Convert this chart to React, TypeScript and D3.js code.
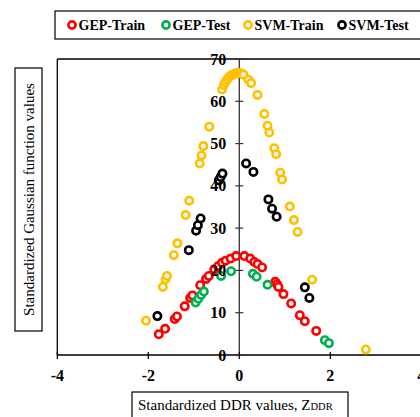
import React from "react";
import * as d3 from "d3";

type Pt = [number, number];

// Standardized DDR (x) vs standardized Gaussian function value (y)
const gepTrain: Pt[] = [
  [-1.77, 4.9], [-1.63, 6.2], [-1.42, 8.5], [-1.37, 9.1], [-1.20, 11.5],
  [-1.08, 13.5], [-1.03, 14.1], [-0.86, 16.5], [-0.73, 18.0], [-0.67, 18.7],
  [-0.55, 20.2], [-0.47, 21.0], [-0.38, 21.8], [-0.30, 22.3], [-0.19, 22.8],
  [-0.07, 23.4], [0.11, 23.4], [0.24, 22.8], [0.33, 22.0], [0.40, 21.5],
  [0.50, 20.7], [0.79, 17.3], [0.83, 16.7], [0.86, 16.1], [0.97, 14.4],
  [1.14, 12.2], [1.33, 9.4], [1.44, 8.0], [1.69, 5.7],
];

const gepTest: Pt[] = [
  [-0.96, 12.4], [-0.90, 13.3], [-0.84, 14.2], [-0.78, 15.0], [-0.40, 18.7],
  [-0.18, 19.8], [0.30, 19.2], [0.38, 18.5], [0.62, 16.6], [1.88, 3.5],
  [1.97, 2.8],
];

const svmTrain: Pt[] = [
  [-2.05, 8.1], [-1.68, 16.1], [-1.62, 17.9], [-1.59, 18.7], [-1.44, 23.6],
  [-1.36, 26.4], [-1.18, 33.1], [-1.10, 36.5], [-0.87, 45.3], [-0.83, 47.2],
  [-0.79, 49.4], [-0.66, 54.0], [-0.38, 62.8], [-0.34, 63.8], [-0.31, 64.5],
  [-0.27, 65.1], [-0.23, 65.7], [-0.18, 66.1], [-0.14, 66.3], [-0.09, 66.6],
  [-0.05, 66.7], [0.0, 66.7], [0.04, 66.6], [0.09, 66.3], [0.20, 65.1],
  [0.26, 64.3], [0.40, 61.5], [0.55, 57.0], [0.62, 54.2], [0.66, 52.6],
  [0.77, 48.9], [0.81, 47.5], [0.90, 43.1], [0.94, 41.5], [1.11, 35.1],
  [1.20, 31.9], [1.28, 29.1], [1.60, 17.8], [2.78, 1.3],
];

const svmTest: Pt[] = [
  [-1.80, 9.2], [-1.11, 24.8], [-0.95, 29.4], [-0.91, 30.7], [-0.85, 32.3],
  [-0.45, 41.3], [-0.41, 42.1], [-0.37, 42.9], [0.15, 45.3], [0.31, 43.3],
  [0.64, 36.8], [0.72, 34.6], [0.82, 32.7], [1.44, 16.0], [1.54, 13.5],
];

const seriesNames = ["GEP-Train", "GEP-Test", "SVM-Train", "SVM-Test"];
const seriesColors = ["#ff0000", "#00b050", "#ffc000", "#000000"];
const seriesData = [gepTrain, gepTest, svmTrain, svmTest];

const xTicks = [-4, -2, 0, 2, 4];
const yTicks = [0, 10, 20, 30, 40, 50, 60, 70];

const W = 420;
const H = 417;
const serif = "'Liberation Serif', 'Times New Roman', serif";

export default function App() {
  const x = d3.scaleLinear().domain([-4, 4]).range([57.3, 421.3]);
  const y = d3.scaleLinear().domain([0, 70]).range([355, 59]);
  const x0 = x(0);
  const y0 = y(0);

  const legendX = [72, 166, 248, 342];

  return (
    <svg
      width={W}
      height={H}
      style={{ position: "absolute", left: 0, top: 0, background: "#fff" }}
      fontFamily={serif}
    >
      {/* legend */}
      <rect x={55} y={11} width={380} height={28} fill="#fff" stroke="#000" strokeWidth={1.2} />
      {seriesNames.map((name, i) => (
        <g key={name}>
          <circle cx={legendX[i]} cy={25} r={3.6} fill="#fff" stroke={seriesColors[i]} strokeWidth={2.6} />
          <text x={legendX[i] + 6.5} y={30} fontSize={14} fontWeight="bold" fill="#000">
            {name}
          </text>
        </g>
      ))}

      {/* plot frame */}
      <line x1={x(-4)} x2={x(-4)} y1={y(70)} y2={y0} stroke="#000" strokeWidth={1.3} />
      <line x1={x(-4)} x2={x(4)} y1={y(70)} y2={y(70)} stroke="#000" strokeWidth={1.3} />
      <line x1={x(4)} x2={x(4)} y1={y(70)} y2={y0} stroke="#000" strokeWidth={1.3} />

      {/* axes */}
      <line x1={x(-4)} x2={x(4)} y1={y0} y2={y0} stroke="#000" strokeWidth={1.3} />
      <line x1={x0} x2={x0} y1={y(70)} y2={y0} stroke="#333" strokeWidth={1.3} />
      {xTicks.map((t) => (
        <line key={"xt" + t} x1={x(t)} x2={x(t)} y1={y0 - 3} y2={y0 + 4} stroke="#000" strokeWidth={1.2} />
      ))}
      {yTicks.map((t) => (
        <line key={"yt" + t} x1={x0 - 4} x2={x0 + 4} y1={y(t)} y2={y(t)} stroke="#333" strokeWidth={1.2} />
      ))}

      {/* data */}
      {seriesData.map((pts, i) => (
        <g key={seriesNames[i]}>
          {pts.map((p, j) => (
            <circle
              key={j}
              cx={x(p[0])}
              cy={y(p[1])}
              r={3.7}
              fill="#fff"
              stroke={seriesColors[i]}
              strokeWidth={2.6}
            />
          ))}
        </g>
      ))}

      {/* tick labels */}
      {yTicks.map((t) => (
        <text key={"yl" + t} x={x0 - 13} y={y(t) + 5.5} fontSize={16} fontWeight="bold" textAnchor="end" fill="#000">
          {t}
        </text>
      ))}
      {xTicks.map((t) => (
        <text key={"xl" + t} x={x(t)} y={381} fontSize={16} fontWeight="bold" textAnchor="middle" fill="#000">
          {t}
        </text>
      ))}

      {/* axis titles */}
      <rect x={132} y={392} width={216} height={26} fill="#fff" stroke="#000" strokeWidth={1.2} />
      <text x={138} y={410} fontSize={15} fill="#000">
        Standardized DDR values, Z<tspan fontSize={10.5}>DDR</tspan>
      </text>

      <rect x={15} y={68} width={27} height={263} fill="#fff" stroke="#000" strokeWidth={1.2} />
      <text
        transform={`translate(33.5, ${(68 + 331) / 2}) rotate(-90)`}
        fontSize={15}
        textAnchor="middle"
        fill="#000"
      >
        Standardized Gaussian function values
      </text>
    </svg>
  );
}
